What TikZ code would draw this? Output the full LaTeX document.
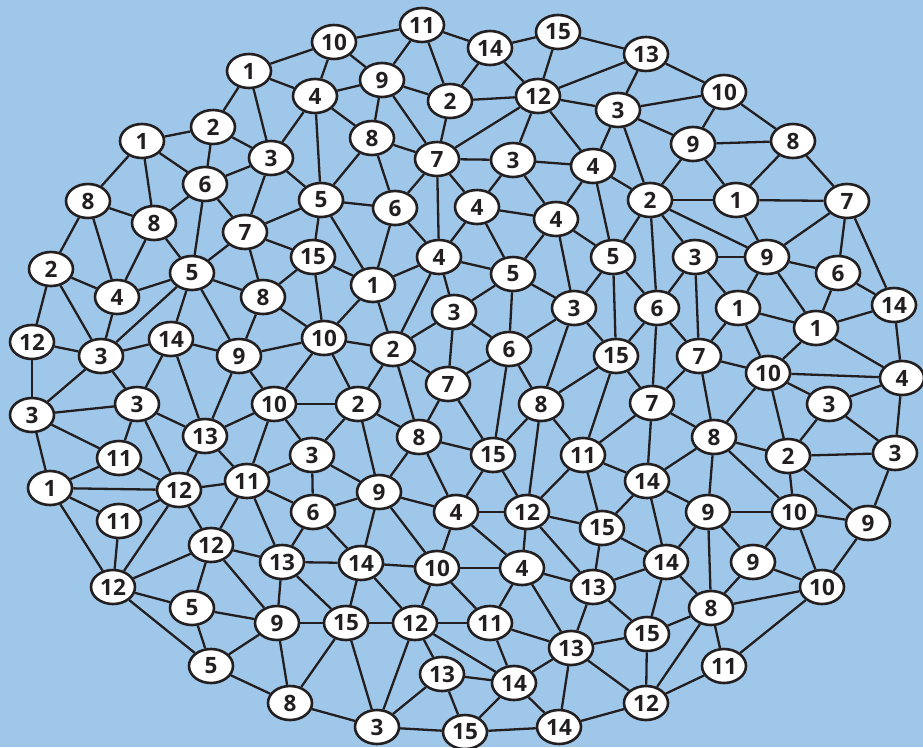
\documentclass[tikz,border=0pt]{standalone}
\usepackage{fontspec}
\setmainfont{Open Sans}
\usetikzlibrary{shapes.geometric}
\definecolor{bgblue}{RGB}{159,199,234}
\definecolor{ink}{RGB}{35,31,32}
\begin{document}
\begin{tikzpicture}[x=1pt,y=-1pt,
  vtx/.style={ellipse,draw=ink,fill=white,line width=2.6pt,inner sep=0pt,
    minimum width=44pt,minimum height=34pt,
    font=\fontsize{22.5}{22.5}\selectfont\bfseries,text=ink},
  edg/.style={draw=ink,line width=2.3pt}]
\fill[bgblue] (0,0) rectangle (923,747);
\useasboundingbox (0,0) rectangle (923,747);
\foreach \n/\x/\y/\t in {
A/334/42/10, B/422/25/11, C/490/48/14, D/558/32/15, E/646/54/13,
F/249/71/1, G/315/96/4, H/382/80/9, I/450/101/2, J/538/96/12, K/618/110/3, L/724/92/10,
M/213/127/2, N/142/141/1, O/271/158/3, P/372/138/8, Q/437/159/7, R/513/160/3, S/593/166/4, T/693/144/9, U/793/141/8,
V/205/184/6, W/88/201/8, X/154/223/8, Y/245/232/7, Z/321/200/5, AA/395/208/6, AB/477/207/4, AC/556/219/4, AD/650/200/2, AE/736/200/1, AF/847/201/7,
AG/51/269/2, AH/117/297/4, AI/192/273/5, AJ/313/257/15, AK/263/297/8, AL/373/285/1, AM/439/257/4, AN/513/274/5, AO/613/257/5, AP/695/257/3, AQ/767/257/9, AR/838/273/6, AS/894/305/14,
AT/32/342/12, AU/101/356/3, AV/171/339/14, AW/239/356/9, AX/324/338/10, AY/393/349/2, AZ/454/312/3, BA/509/349/6, BB/574/308/3, BC/657/308/6, BD/738/308/1, BE/816/328/1, BF/616/356/15, BG/699/356/7, BH/768/373/10, BI/902/378/4,
BJ/32/415/3, BK/137/404/3, BL/205/436/13, BM/274/404/10, BN/358/404/2, BO/448/384/7, BP/541/404/8, BQ/652/403/7, BR/829/404/3,
BS/119/458/11, BT/312/455/3, BU/419/437/8, BV/493/455/15, BW/583/455/11, BX/714/437/8, BY/788/456/2, BZ/895/453/3,
CA/50/488/1, CB/179/490/12, CC/247/481/11, CD/379/492/9, CE/647/481/14,
CF/119/521/11, CG/313/512/6, CH/456/512/4, CI/527/512/12, CJ/602/528/15, CK/708/512/9, CL/794/512/10, CM/868/523/9,
CN/211/545/12, CO/282/562/13, CP/361/563/14, CQ/437/568/10, CR/522/568/4, CS/593/587/13, CT/666/562/14, CU/753/562/9,
CV/113/587/12, CW/192/608/5, CX/277/623/9, CY/346/623/15, CZ/415/623/12, DA/490/623/11, DB/571/648/13, DC/647/634/15, DD/711/608/8, DE/822/587/10,
DF/211/666/5, DG/442/674/13, DH/514/683/14, DI/724/666/11, DJ/290/703/8, DK/377/727/3, DL/465/732/15, DM/559/727/14, DN/646/703/12}
  {\node[vtx] (\n) at (\x,\y) {\t};}
\foreach \a/\b in {
F/A, F/G, F/M, F/O, N/M, N/V, N/W, N/X, M/V, M/O, G/O, G/Z,
O/V, O/Z, O/Y, V/X, V/Y, V/AI, W/X, W/AG, W/AH, X/AH, X/AI,
Y/Z, Y/AJ, Y/AK, Y/AI, A/B, A/G, A/H, B/H, B/I, B/C, C/I, C/D, C/J,
D/J, D/E, J/E, J/I, J/Q, J/R, J/K, J/S, H/G, H/I, H/P, H/Q, I/Q, G/P,
P/Q, P/Z, P/AA, Q/R, Q/AA, Q/AB, Q/AM, R/S, R/AB, R/AC, K/S,
S/AC, S/AO, S/AD, Z/AA, Z/AJ, Z/AL, AA/AM, AA/AL, AB/AC, AB/AM, AB/AN,
AC/AN, AC/BB, AC/AO, E/K, E/L, K/L, K/T, K/AD, L/T, L/U, T/U, T/AD, T/AE,
U/AE, U/AF, AD/AE, AE/AF, AE/AQ, AD/AQ, AD/AP, AD/AO, AD/BC, AF/AQ, AF/AR, AF/AS,
AG/AH, AG/AT, AG/AU, AH/AI, AH/AU, AI/AU, AI/AV, AI/AW, AI/AK,
AK/AJ, AK/AW, AK/AX, AT/AU, AT/BJ, AU/AV, AU/BJ, AU/BK, AV/AW, AV/BK, AV/BL,
AW/AX, AW/BL, AW/BM, BJ/BK, BJ/BS, BJ/CA, BK/BL, BK/BS, BK/CB, BL/BM, BL/CB, BL/CC,
BM/CC, BM/AX, BM/BT, BM/BN, BS/CA, BS/CB, CA/CB, CA/CF, CA/CV,
CB/CC, CB/CF, CB/CV, CB/CN, CC/BT, CC/CG, CC/CN, CC/CO,
CF/CV, CG/CO, CG/CP, CG/CD, CG/BT, CN/CO, CN/CV, CN/CW, CN/CX,
CO/CX, CO/CP, CO/CY, CV/CW, CV/DF, CW/CX, CW/DF, DF/CX, DF/DJ, CX/DJ, CX/CY, DJ/CY, DJ/DK,
AJ/AL, AJ/AX, AL/AM, AL/AX, AL/AY, AM/AN, AM/AZ, AM/AY, AN/AZ, AN/BA, AN/BB,
BB/BA, BB/BP, BB/BF, BB/AO, AO/BF, AX/AY, AX/BN, AY/AZ, AY/BO, AY/BN, AY/BU,
AZ/BO, AZ/BA, BA/BO, BA/BP, BA/BV, BF/BP, BF/BW, BO/BU, BO/BV,
BN/BU, BN/BT, BN/CD, BU/BV, BU/CD, BU/CH, BP/BV, BP/BW, BP/CI, BV/CI, BV/CH,
BW/CI, BW/BQ, BW/CE, BW/CJ, BT/CD, CD/CH, CD/CP, CD/CQ,
CH/CQ, CH/CI, CH/CR, CI/CR, CI/CJ, CI/CS, CJ/CS, CJ/CE, CJ/CT,
CP/CQ, CP/CY, CP/CZ, CQ/CR, CQ/CZ, CQ/DA, CR/DA, CR/CS, CR/DB,
CS/DB, CS/CT, CS/DC, CY/CZ, CY/DK, CZ/DA, CZ/DG, CZ/DH, CZ/DK,
DA/DB, DA/DH, DB/DH, DB/DM, DB/DC, DB/DN, DG/DH, DG/DK, DG/DL, DH/DL, DH/DM,
DK/DL, DL/DM, DM/DN, CE/CK, CE/CT, CK/CL, CK/CT, CK/DD, CK/CU,
CL/CU, CL/CM, CL/DE, CM/DE, CU/DD, CU/DE, DD/DE, DD/CT, DD/DC, DD/DN, DD/DI,
DE/DI, CT/DC, DC/DN, DN/DI, AO/BC, AP/AQ, AP/BC, AP/BG, AP/BD,
AQ/BD, AQ/AR, AQ/BE, AR/BE, AR/AS, AS/BE, AS/BI, BE/BI, BE/BH, BD/BE, BD/BG, BD/BH,
BC/BF, BC/BG, BC/BQ, BF/BQ, BG/BH, BG/BQ, BG/BX, BH/BI, BH/BR, BH/BX, BH/BY,
BI/BR, BI/BZ, BR/BY, BR/BZ, BQ/BX, BQ/CE, BX/BY, BX/CE, BX/CK, BX/CL,
BY/BZ, BY/CL, BY/CM, BZ/CM}
  {\draw[edg] (\a) -- (\b);}
\end{tikzpicture}
\end{document}
